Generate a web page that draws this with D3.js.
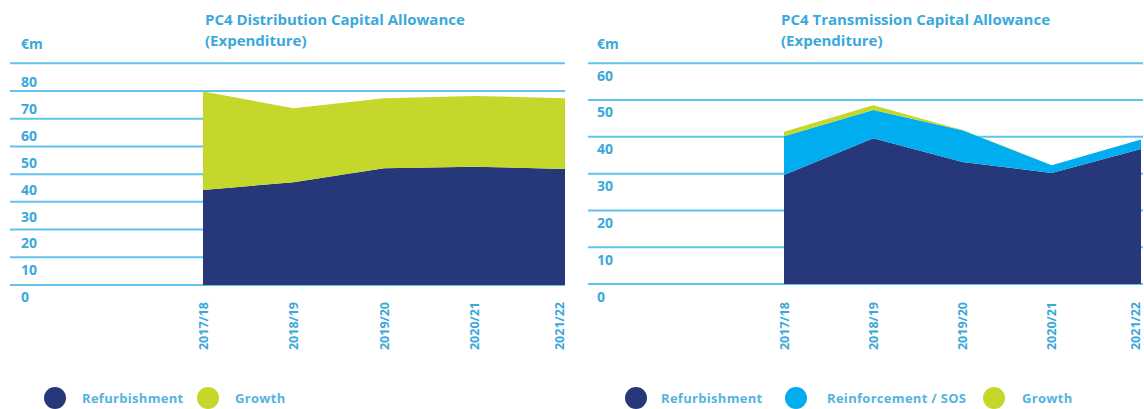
<!DOCTYPE html>
<html>
<head>
<meta charset="utf-8">
<script src="https://cdn.jsdelivr.net/npm/d3@7"></script>
<style>
  html, body { margin: 0; padding: 0; background: #ffffff; }
  svg { display: block; font-family: "Open Sans", "Noto Sans", sans-serif; font-weight: 700; }
</style>
</head>
<body>
<svg id="chart" width="1144" height="409"></svg>
<script>
// Financial years shared by both panels
const years = ["2017/18", "2018/19", "2019/20", "2020/21", "2021/22"];

// PC4 Distribution capital allowance, €m
const distRefurbishment = [34.3, 37.1, 42.1, 42.7, 41.9];
const distGrowth = [35.5, 26.7, 25.3, 25.5, 25.5];
const distTicks = [0, 10, 20, 30, 40, 50, 60, 70, 80];

// PC4 Transmission capital allowance, €m
const transRefurbishment = [29.6, 39.6, 33.2, 30.2, 36.7];
const transReinforcement = [10.6, 7.7, 8.6, 2.1, 2.6];
const transGrowth = [1.2, 1.3, 0.1, 0, 0];
const transTicks = [0, 10, 20, 30, 40, 50, 60];

const colors = {
  refurbishment: "#263879",
  reinforcement: "#00adef",
  growth: "#c5d72b",
  grid: "#62c3ee",
  text: "#3ba8dc",
  legendText: "#55b3e1"
};

const svg = d3.select("#chart");

function drawPanel(cfg) {
  const g = svg.append("g");

  const x = d3.scalePoint().domain(years).range(cfg.xRange);
  const y = d3.scaleLinear().domain([0, d3.max(cfg.ticks)]).range(cfg.yRange);
  const yLabel = d3.scaleLinear().domain([0, d3.max(cfg.ticks)]).range(cfg.labelRange);

  // horizontal gridlines
  g.selectAll("line.grid").data(cfg.ticks).join("line")
    .attr("class", "grid")
    .attr("x1", cfg.gridX[0]).attr("x2", cfg.gridX[1])
    .attr("y1", d => y(d)).attr("y2", d => y(d))
    .attr("stroke", colors.grid).attr("stroke-width", 2);

  // value labels sit just under their gridline
  g.selectAll("text.ytick").data(cfg.ticks).join("text")
    .attr("class", "ytick")
    .attr("x", cfg.labelX)
    .attr("y", d => yLabel(d))
    .attr("dominant-baseline", "central")
    .attr("font-size", 14)
    .attr("fill", colors.text)
    .text(d => d);

  // stacked areas
  const rows = years.map((yr, i) => {
    const r = { year: yr };
    cfg.series.forEach(s => { r[s.key] = s.values[i]; });
    return r;
  });
  const stack = d3.stack().keys(cfg.series.map(s => s.key));
  const layers = stack(rows);
  const area = d3.area()
    .x(d => x(d.data.year))
    .y0(d => y(d[0]))
    .y1(d => y(d[1]));
  g.selectAll("path.layer").data(layers).join("path")
    .attr("class", "layer")
    .attr("d", area)
    .attr("fill", d => colors[d.key]);

  // rotated year labels
  g.selectAll("text.xtick").data(years).join("text")
    .attr("class", "xtick")
    .attr("transform", (d, i) => `translate(${x(d) - (i === years.length - 1 ? 6 : 0)},302) rotate(-90)`)
    .attr("text-anchor", "end")
    .attr("dominant-baseline", "central")
    .attr("font-size", 12.5)
    .attr("fill", colors.text)
    .text(d => d);

  // unit and title
  g.append("text")
    .attr("x", cfg.labelX).attr("y", 43)
    .attr("dominant-baseline", "central")
    .attr("font-size", 14).attr("fill", colors.text)
    .text("€m");
  const title = g.append("text")
    .attr("x", cfg.titleX).attr("y", 19)
    .attr("font-size", 15).attr("fill", colors.text);
  cfg.title.forEach((line, i) => {
    title.append("tspan")
      .attr("x", cfg.titleX)
      .attr("y", 19 + i * 21)
      .attr("dominant-baseline", "central")
      .text(line);
  });

  // legend
  const leg = g.selectAll("g.legend").data(cfg.series).join("g")
    .attr("class", "legend")
    .attr("transform", (d, i) => `translate(${cfg.legendX[i]},398)`);
  leg.append("circle").attr("r", 11).attr("fill", d => colors[d.key]);
  leg.append("text")
    .attr("x", (d, i) => cfg.legendGap[i])
    .attr("dominant-baseline", "central")
    .attr("font-size", 13)
    .attr("letter-spacing", 0.3)
    .attr("fill", colors.legendText)
    .text(d => d.label);
}

drawPanel({
  xRange: [203, 565],
  yRange: [285, 63.3],
  labelRange: [296.7, 81.7],
  gridX: [10, 565],
  labelX: 21,
  titleX: 205,
  title: ["PC4 Distribution Capital Allowance", "(Expenditure)"],
  ticks: distTicks,
  series: [
    { key: "refurbishment", label: "Refurbishment", values: distRefurbishment },
    { key: "growth", label: "Growth", values: distGrowth }
  ],
  legendX: [55, 208],
  legendGap: [27, 27]
});

drawPanel({
  xRange: [784, 1141],
  yRange: [284, 63.3],
  labelRange: [296.7, 75],
  gridX: [588, 1143],
  labelX: 597,
  titleX: 781,
  title: ["PC4 Transmission Capital Allowance", "(Expenditure)"],
  ticks: transTicks,
  series: [
    { key: "refurbishment", label: "Refurbishment", values: transRefurbishment },
    { key: "reinforcement", label: "Reinforcement / SOS", values: transReinforcement },
    { key: "growth", label: "Growth", values: transGrowth }
  ],
  legendX: [636, 796, 994],
  legendGap: [25, 31, 28]
});
</script>
</body>
</html>
